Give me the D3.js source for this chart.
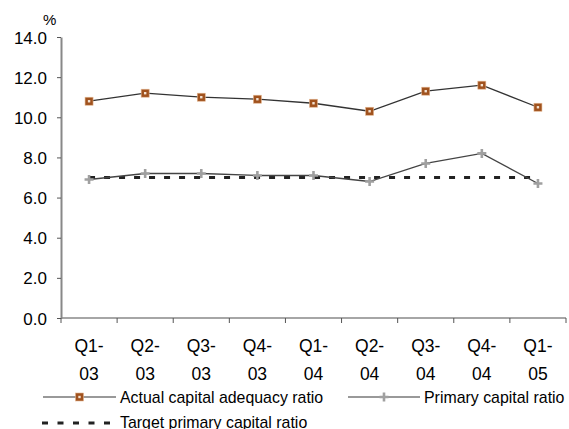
<!DOCTYPE html>
<html>
<head>
<meta charset="utf-8">
<script src="https://cdn.jsdelivr.net/npm/d3@7"></script>
<style>
  html, body { margin: 0; padding: 0; background: #fff; }
  svg { display: block; font-family: "Liberation Sans", Arial, sans-serif; }
</style>
</head>
<body>
<svg id="chart" width="569" height="429"></svg>
<script>
// Quarterly capital ratios, per cent
const quarters = ["Q1-03", "Q2-03", "Q3-03", "Q4-03", "Q1-04", "Q2-04", "Q3-04", "Q4-04", "Q1-05"];
const actualRatio = [10.8, 11.2, 11.0, 10.9, 10.7, 10.3, 11.3, 11.6, 10.5];
const primaryRatio = [6.9, 7.2, 7.2, 7.1, 7.1, 6.8, 7.7, 8.2, 6.7];
const targetRatio = [7.0, 7.0, 7.0, 7.0, 7.0, 7.0, 7.0, 7.0, 7.0];
const yTicks = [0, 2, 4, 6, 8, 10, 12, 14];
const seriesNames = ["Actual capital adequacy ratio", "Primary capital ratio", "Target primary capital ratio"];

const svg = d3.select("#chart");
const margin = { left: 61, right: 3, top: 37, bottom: 111 };
const W = 569, H = 429;

const x = d3.scaleBand().domain(quarters).range([margin.left, W - margin.right]);
const y = d3.scaleLinear().domain([0, 14]).range([H - margin.bottom, margin.top]);
const cx = q => x(q) + x.bandwidth() / 2;

// Y axis
const yAxis = svg.append("g")
  .attr("transform", `translate(${margin.left},0)`)
  .call(d3.axisLeft(y).tickValues(yTicks).tickFormat(d3.format(".1f")).tickSize(4).tickSizeOuter(0));
yAxis.select(".domain").attr("stroke", "#888").attr("stroke-width", 2);
yAxis.selectAll(".tick line").attr("stroke", "#555");
yAxis.selectAll(".tick text").attr("font-size", 17).attr("fill", "#000").attr("x", -14).attr("dy", "0.36em");

// X axis with ticks at category boundaries
const xAxisG = svg.append("g").attr("transform", `translate(0,${y(0)})`);
xAxisG.append("line")
  .attr("x1", margin.left).attr("x2", W - margin.right)
  .attr("stroke", "#888").attr("stroke-width", 1.5);
const boundaries = quarters.map(q => x(q) + x.bandwidth()).concat([x(quarters[0])]);
xAxisG.selectAll(".xt").data(boundaries).join("line")
  .attr("x1", d => d).attr("x2", d => d).attr("y1", 0).attr("y2", 5)
  .attr("stroke", "#555");
const xl = xAxisG.selectAll(".xl").data(quarters).join("text")
  .attr("text-anchor", "middle").attr("font-size", 17.5).attr("fill", "#000");
xl.append("tspan").attr("x", d => cx(d)).attr("y", 34).text(d => d.split("-")[0] + "-");
xl.append("tspan").attr("x", d => cx(d)).attr("y", 62).text(d => d.split("-")[1]);

// Unit label
svg.append("text").attr("x", 43).attr("y", 25).attr("font-size", 15).text("%");

const line = d3.line().x((d, i) => cx(quarters[i])).y(d => y(d));

// Target line (dashed)
svg.append("path").datum(targetRatio).attr("d", line)
  .attr("fill", "none").attr("stroke", "#222").attr("stroke-width", 3).attr("stroke-dasharray", "6,9");

// Primary capital ratio
svg.append("path").datum(primaryRatio).attr("d", line)
  .attr("fill", "none").attr("stroke", "#444").attr("stroke-width", 1.3);

// Actual capital adequacy ratio
svg.append("path").datum(actualRatio).attr("d", line)
  .attr("fill", "none").attr("stroke", "#333").attr("stroke-width", 1.3);

const brown = "#A0521E";
function squareMarker(g, px, py) {
  g.append("rect").attr("x", px - 4).attr("y", py - 4).attr("width", 8).attr("height", 8)
    .attr("fill", brown).attr("stroke", "#E3B58F").attr("stroke-width", 0.6);
  g.append("rect").attr("x", px - 1.2).attr("y", py - 1.2).attr("width", 2.4).attr("height", 2.4).attr("fill", "#F3E3D3");
}
function plusMarker(g, px, py) {
  g.append("path").attr("d", `M${px - 4.5},${py}H${px + 4.5}M${px},${py - 4.5}V${py + 4.5}`)
    .attr("stroke", "#A0A0A0").attr("stroke-width", 2.6);
}

const pm = svg.append("g");
primaryRatio.forEach((v, i) => plusMarker(pm, cx(quarters[i]), y(v)));
const am = svg.append("g");
actualRatio.forEach((v, i) => squareMarker(am, cx(quarters[i]), y(v)));

// Legend
const leg = svg.append("g").attr("font-size", 15.9);
const r1 = 397, r2 = 423;
leg.append("line").attr("x1", 43).attr("x2", 116).attr("y1", r1).attr("y2", r1).attr("stroke", "#777").attr("stroke-width", 1.5);
squareMarker(leg, 79.5, r1);
leg.append("text").attr("x", 120).attr("y", r1 + 5.5).text(seriesNames[0]);
leg.append("line").attr("x1", 348).attr("x2", 420).attr("y1", r1).attr("y2", r1).attr("stroke", "#777").attr("stroke-width", 1.5);
plusMarker(leg, 384, r1);
leg.append("text").attr("x", 424).attr("y", r1 + 5.5).text(seriesNames[1]);
leg.append("line").attr("x1", 42).attr("x2", 112).attr("y1", r2).attr("y2", r2)
  .attr("stroke", "#222").attr("stroke-width", 3).attr("stroke-dasharray", "6,9.5");
leg.append("text").attr("x", 120).attr("y", 427.5).text(seriesNames[2]);
</script>
</body>
</html>
